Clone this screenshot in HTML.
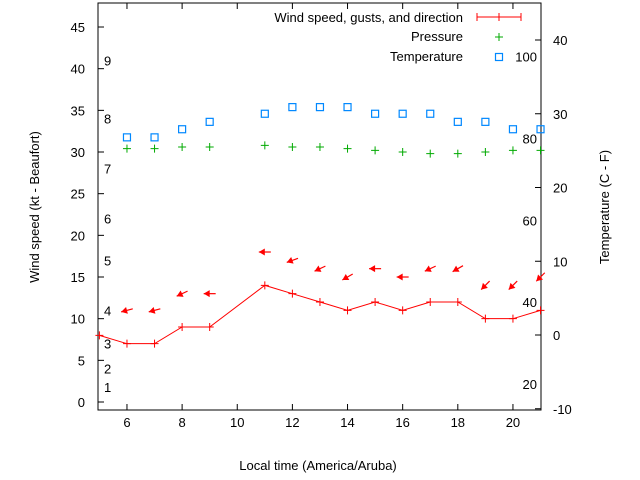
<!DOCTYPE html>
<html><head><meta charset="utf-8"><style>
html,body{margin:0;padding:0;background:#fff}
svg{display:block;font-family:"Liberation Sans",sans-serif}
</style></head><body>
<svg id="c" width="640" height="480" viewBox="0 0 640 480">
<g id="axes"></g><g id="marks"></g>
</svg>
<script>
const hours=[5,6,7,8,9,11,12,13,14,15,16,17,18,19,20,21];
const windSpeed=[8,7,7,9,9,14,13,12,11,12,11,12,12,10,10,11];
const gustHours=[6,7,8,9,11,12,13,14,15,16,17,18,19,20,21];
const gusts=[11,11,13,13,18,17,16,15,16,15,16,16,14,14,15];
const windDir=[75,75,65,90,90,70,65,60,90,90,65,60,45,45,45];
const pressHours=[6,7,8,9,11,12,13,14,15,16,17,18,19,20,21];
const pressure=[30.4,30.4,30.6,30.6,30.8,30.6,30.6,30.4,30.2,30.0,29.8,29.8,30.0,30.2,30.2];
const tempHours=[6,7,8,9,11,12,13,14,15,16,17,18,19,20,21];
const temperature=[26.8,26.8,27.9,28.9,30.0,30.9,30.9,30.9,30.0,30.0,30.0,28.9,28.9,27.9,27.9];
const xTicks=[6,8,10,12,14,16,18,20];
const yTicks=[0,5,10,15,20,25,30,35,40,45];
const y2Ticks=[-10,0,10,20,30,40];
const beaufort=[[1,1.8],[2,4],[3,7],[4,11],[5,17],[6,22],[7,28],[8,34],[9,41]];
const fahr=[20,40,60,80,100];

const L=98,R=541,T=3,B=410;
const X=h=>99.4+(h-5)*27.57;
const Y=v=>402-v*8.333;
const Y2=c=>335-c*7.375;
const NS='http://www.w3.org/2000/svg';
const ax=document.getElementById('axes'),mk=document.getElementById('marks');
function el(p,t,a,txt){const e=document.createElementNS(NS,t);for(const k in a)e.setAttribute(k,a[k]);if(txt!==undefined)e.textContent=txt;p.appendChild(e);return e;}

let e=el(ax,'rect',{x:L,y:T,width:R-L,height:B-T,fill:'none',stroke:'#000','stroke-width':1});


xTicks.forEach(h=>{const x=X(h);
 el(ax,'line',{x1:x,y1:B,x2:x,y2:B-6,stroke:'#000'});
 el(ax,'line',{x1:x,y1:T,x2:x,y2:T+6,stroke:'#000'});
 const t=el(ax,'text',{x:x,y:427,'font-size':13,'text-anchor':'middle'},h);
 
 });
yTicks.forEach(v=>{const y=Y(v);
 el(ax,'line',{x1:L,y1:y,x2:L+6,y2:y,stroke:'#000'});
 const t=el(ax,'text',{x:85,y:y+5,'font-size':13,'text-anchor':'end'},v);
 
 });
y2Ticks.forEach(v=>{const y=Y2(v);
 el(ax,'line',{x1:R,y1:y,x2:R-6,y2:y,stroke:'#000'});
 const t=el(ax,'text',{x:553,y:y+5,'font-size':13},v);
 
 });
beaufort.forEach(([b,v])=>{const t=el(ax,'text',{x:104,y:Y(v)+5,'font-size':13},b);
 
 });
fahr.forEach(f=>{const t=el(ax,'text',{x:537,y:Y2((f-32)*5/9)+5,'font-size':13,'text-anchor':'end'},f);
 
 });
let t=el(ax,'text',{x:318,y:470,'font-size':13,'text-anchor':'middle'},'Local time (America/Aruba)');

t=el(ax,'text',{x:0,y:0,'font-size':13,'text-anchor':'middle',transform:'translate(39,207) rotate(-90)'},'Wind speed (kt - Beaufort)');

t=el(ax,'text',{x:0,y:0,'font-size':13,'text-anchor':'middle',transform:'translate(609,207) rotate(-90)'},'Temperature (C - F)');


const pts=hours.map((h,i)=>X(h)+','+Y(windSpeed[i])).join(' ');
e=el(mk,'polyline',{points:pts,fill:'none',stroke:'#f00','stroke-width':1});


hours.forEach((h,i)=>{const x=X(h),y=Y(windSpeed[i]);
 const g=el(mk,'path',{d:`M${x-4},${y}H${x+4}M${x},${y-4}V${y+4}`,stroke:'#f00'});
 
 });
gustHours.forEach((h,i)=>{const cx=X(h),cy=Y(gusts[i]);const a=windDir[i]*Math.PI/180;
 const dx=Math.sin(a),dy=-Math.cos(a);
 const x=cx-dx*6,y=cy-dy*6;
 const tx=cx+dx*6,ty=cy+dy*6;
 const px=-dy,py=dx;
 const hx=x+dx*6,hy=y+dy*6;
 const g=el(mk,'g',{});
 
 
 el(g,'line',{x1:x,y1:y,x2:tx,y2:ty,stroke:'#f00','stroke-width':1.2});
 el(g,'polygon',{points:`${x},${y} ${hx+px*3.5},${hy+py*3.5} ${hx-px*3.5},${hy-py*3.5}`,fill:'#f00'});});
pressHours.forEach((h,i)=>{const x=X(h),y=Y(pressure[i]);
 const g=el(mk,'path',{d:`M${x-4},${y}H${x+4}M${x},${y-4}V${y+4}`,stroke:'#0a0'});
 
 });
tempHours.forEach((h,i)=>{const x=X(h),y=Y2(temperature[i]);
 const g=el(mk,'rect',{x:x-3.5,y:y-3.5,width:7,height:7,fill:'none',stroke:'#08f','stroke-width':1.2});
 
 });
const lg=el(mk,'g',{});


t=el(lg,'text',{x:463,y:22,'font-size':13,'text-anchor':'end'},'Wind speed, gusts, and direction');

el(lg,'path',{d:'M477,17H521M477,13V21M499,13V21M521,13V21',stroke:'#f00'});
t=el(lg,'text',{x:463,y:41,'font-size':13,'text-anchor':'end'},'Pressure');

el(lg,'path',{d:'M495,37H503M499,33V41',stroke:'#0a0'});
t=el(lg,'text',{x:463,y:61,'font-size':13,'text-anchor':'end'},'Temperature');

el(lg,'rect',{x:495.5,y:53.5,width:7,height:7,fill:'none',stroke:'#08f','stroke-width':1.2});
</script>
</body></html>
